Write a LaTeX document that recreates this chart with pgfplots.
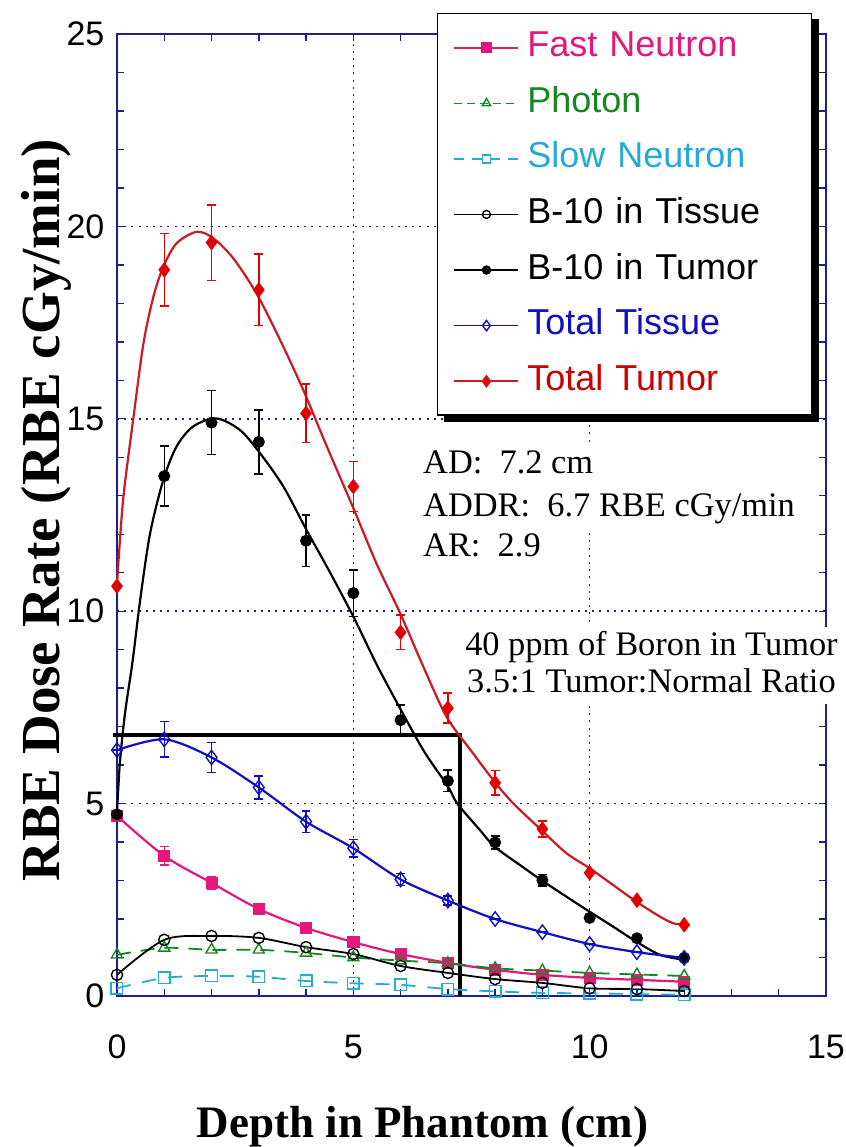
\documentclass[border=0pt]{standalone}
\usepackage{pgfplots}
\usepackage{pgfplotstable}
\pgfplotsset{compat=1.18}
\usepackage{fontspec}
\setmainfont{Liberation Serif}
\setsansfont{Liberation Sans}

\definecolor{axc}{RGB}{30,30,140}
\definecolor{fastc}{RGB}{228,24,122}
\definecolor{photc}{RGB}{20,135,30}
\definecolor{slowc}{RGB}{35,170,215}
\definecolor{tisc}{RGB}{15,15,195}
\definecolor{tumc}{RGB}{228,0,0}
\definecolor{tumline}{RGB}{205,25,35}
\definecolor{tumtext}{RGB}{200,0,0}

% Total Tumor
\pgfplotstableread{
x y e
0 10.65 0
1 18.87 0.94
2 19.58 0.98
3 18.35 0.93
4 15.14 0.76
5 13.24 0.65
6 9.45 0.45
7 7.48 0.39
8 5.54 0.32
9 4.34 0.21
10 3.20 0
11 2.49 0
12 1.85 0
}\TTumor
\pgfplotstableread{
x y
0 10.70
0.13 12.90
0.35 15.05
0.56 16.96
0.77 18.17
0.98 18.95
1.26 19.56
1.69 19.86
2.04 19.69
2.46 19.17
2.95 18.26
3.45 17.05
3.94 15.75
4.44 14.28
5.00 12.68
5.49 11.24
5.99 9.95
6.48 8.56
6.97 7.26
7.50 6.36
8.00 5.55
8.38 5.01
8.98 4.31
9.51 3.71
10.00 3.32
10.50 2.88
10.99 2.45
11.49 2.06
11.77 1.89
12.00 1.85
}\TTumorFit
% B-10 in Tumor
\pgfplotstableread{
x y e
0 4.72 0
1 13.51 0.78
2 14.90 0.83
3 14.40 0.83
4 11.83 0.67
5 10.47 0.60
6 7.17 0.39
7 5.59 0.28
8 3.99 0.17
9 3.01 0.15
10 2.03 0
11 1.50 0
12 0.99 0
}\BTumor
\pgfplotstableread{
x y
0 4.75
0.06 6.05
0.17 7.35
0.33 8.70
0.49 10.29
0.70 12.02
0.98 13.41
1.26 14.28
1.61 14.80
2.10 15.01
2.60 14.71
3.03 14.10
3.52 13.24
4.01 12.11
4.51 11.00
5.00 9.86
5.50 8.60
6.00 7.45
6.50 6.35
7.00 5.45
7.20 5.00
7.68 4.31
7.99 3.88
8.53 3.40
8.98 3.01
9.51 2.58
10.00 2.19
10.50 1.80
10.99 1.41
11.49 1.07
12.00 0.94
}\BTumorFit
% Total Tissue
\pgfplotstableread{
x y e
0 6.39 0
1 6.67 0.46
2 6.20 0.39
3 5.42 0.30
4 4.53 0.28
5 3.84 0.23
6 3.03 0.16
7 2.48 0.12
8 2.00 0
9 1.66 0
10 1.35 0
11 1.14 0
12 0.99 0
}\TTissue
% Fast Neutron
\pgfplotstableread{
x y e
0 4.68 0
1 3.64 0.24
2 2.94 0.16
3 2.26 0
4 1.77 0
5 1.40 0
6 1.09 0
7 0.86 0
8 0.68 0
9 0.55 0
10 0.47 0
11 0.42 0
12 0.37 0
}\Fast
% Photon
\pgfplotstableread{
x y
0 1.07
1 1.25
2 1.20
3 1.20
4 1.12
5 1.00
6 0.92
7 0.85
8 0.72
9 0.66
10 0.60
11 0.56
12 0.52
}\Photon
% Slow Neutron
\pgfplotstableread{
x y
0 0.20
1 0.47
2 0.52
3 0.50
4 0.39
5 0.33
6 0.29
7 0.18
8 0.12
9 0.08
10 0.07
11 0.05
12 0.03
}\Slow
% B-10 in Tissue
\pgfplotstableread{
x y
0 0.55
1 1.46
2 1.56
3 1.51
4 1.27
5 1.09
6 0.78
7 0.60
8 0.44
9 0.34
10 0.20
11 0.18
12 0.13
}\BTissue

\begin{document}
\begin{tikzpicture}
\path[use as bounding box] (-58.5pt,-75.5pt) rectangle (364.5pt,498pt);
\begin{axis}[
  at={(0pt,0pt)}, anchor=south west,
  scale only axis, width=354.5pt, height=481pt,
  xmin=0, xmax=15, ymin=0, ymax=25,
  xtick={0,5,10,15}, ytick={0,5,10,15,20,25},
  minor x tick num=4, minor y tick num=4,
  tick align=inside,
  major tick length=3.5pt, minor tick length=3.5pt,
  axis line style={axc, line width=0.9pt},
  tick style={axc, line width=0.7pt},
  grid=major,
  major grid style={axc, line width=0.8pt, dash pattern=on 1pt off 2.6pt},
  clip=false,
  /pgf/number format/assume math mode=true,
  ticklabel style={font=\fontsize{17}{17}\selectfont\sffamily, text=black},
  xticklabel style={yshift=-16pt},
  yticklabel style={xshift=-2.8pt},
  xlabel={Depth in Phantom (cm)},
  xlabel style={at={(axis description cs:0.431,0)}, anchor=base, yshift=-70.5pt, font=\fontsize{22.5}{22.5}\selectfont\bfseries},
  ylabel={RBE Dose Rate (RBE cGy/min)},
  ylabel style={at={(axis description cs:-0.0804,0.505)}, anchor=base, font=\fontsize{27.5}{27.5}\selectfont\bfseries},
  legend cell align=left,
  legend image code/.code={\draw[mark repeat=2,mark phase=2,#1] plot coordinates {(0pt,0pt)(16pt,0pt)(32pt,0pt)};},
  legend style={name=leg, at={(axis description cs:0.451,1.022)}, anchor=north west,
    draw=black, line width=0.8pt, fill=white,
    font=\fontsize{18}{21}\selectfont\sffamily,
    inner xsep=8pt, inner ysep=8.5pt, row sep=10.8pt,
    nodes={inner xsep=4pt, inner ysep=0pt, text height=13pt, text depth=4pt, text width=130pt}},
  ebar/.style={error bars/.cd, y dir=both, y explicit,
    error bar style={line width=0.7pt},
    error mark options={rotate=90, mark size=2.2pt, line width=0.7pt}},
]
% legend entries
\addlegendimage{fastc, line width=0.9pt, mark=square*, mark size=2.2pt}
\addlegendentry{\textcolor{fastc}{Fast Neutron}}
\addlegendimage{photc, line width=0.7pt, dash pattern=on 4pt off 2.5pt, mark=triangle, mark size=2.4pt, mark options={solid}}
\addlegendentry{\textcolor{photc}{Photon}}
\addlegendimage{slowc, line width=0.9pt, dash pattern=on 5pt off 4pt, mark=square, mark size=2pt, mark options={solid}}
\addlegendentry{\textcolor{slowc}{Slow Neutron}}
\addlegendimage{black, line width=0.7pt, mark=o, mark size=2pt}
\addlegendentry{\textcolor{black}{B-10 in Tissue}}
\addlegendimage{black, line width=0.7pt, mark=*, mark size=2pt}
\addlegendentry{\textcolor{black}{B-10 in Tumor}}
\addlegendimage{tisc, line width=0.7pt, mark=diamond, mark size=2.6pt}
\addlegendentry{\textcolor{tisc}{Total Tissue}}
\addlegendimage{tumline, line width=0.9pt, mark=diamond*, mark size=2.6pt, mark options={fill=tumc}}
\addlegendentry{\textcolor{tumtext}{Total Tumor}}

% AD box line
\addplot[black, line width=2.3pt, forget plot] coordinates {(-0.08,6.78) (7.26,6.78) (7.26,0)};

% Fast neutron
\addplot[fastc, line width=1.1pt, smooth, forget plot] table[x=x,y=y]{\Fast};
\addplot[fastc, only marks, mark=square*, mark size=2.8pt, forget plot, ebar] table[x=x,y=y,y error=e]{\Fast};
% Photon
\addplot[photc, line width=0.9pt, smooth, dash pattern=on 7pt off 5pt, forget plot] table[x=x,y=y]{\Photon};
\addplot[photc, only marks, mark=triangle, mark size=3.2pt, mark options={line width=0.7pt}, forget plot] table[x=x,y=y]{\Photon};
% Slow neutron
\addplot[slowc, line width=0.9pt, smooth, dash pattern=on 7pt off 6pt, forget plot] table[x=x,y=y]{\Slow};
\addplot[slowc, only marks, mark=square, mark size=2.9pt, mark options={line width=0.7pt}, forget plot] table[x=x,y=y]{\Slow};
% B-10 in tissue
\addplot[black, line width=0.9pt, smooth, forget plot] table[x=x,y=y]{\BTissue};
\addplot[black, only marks, mark=o, mark size=2.8pt, mark options={line width=0.7pt}, forget plot] table[x=x,y=y]{\BTissue};
% B-10 in tumor
\addplot[black, line width=1.1pt, smooth, forget plot] table[x=x,y=y]{\BTumorFit};
\addplot[black, only marks, mark=*, mark size=2.8pt, forget plot, ebar] table[x=x,y=y,y error=e]{\BTumor};
% Total tissue
\addplot[tisc, line width=1.1pt, smooth, forget plot] table[x=x,y=y]{\TTissue};
\addplot[tisc, only marks, mark=diamond, mark size=3.6pt, mark options={line width=0.7pt}, forget plot, ebar] table[x=x,y=y,y error=e]{\TTissue};
% Total tumor
\addplot[tumline, line width=1.1pt, smooth, forget plot] table[x=x,y=y]{\TTumorFit};
\addplot[tumc, only marks, mark=diamond*, mark size=3.6pt, forget plot, ebar] table[x=x,y=y,y error=e]{\TTumor};

% annotations
\node[anchor=base west, fill=white, inner xsep=2pt, inner ysep=0pt, text height=14pt, text depth=7pt, xshift=-2pt, font=\fontsize{17.2}{20}\selectfont] at (axis cs:6.47,13.57) {AD:\ \ 7.2 cm};
\node[anchor=base west, fill=white, inner xsep=2pt, inner ysep=0pt, text height=14pt, text depth=7pt, xshift=-2pt, font=\fontsize{17.2}{20}\selectfont] at (axis cs:6.47,12.47) {ADDR:\ \ 6.7 RBE cGy/min};
\node[anchor=base west, fill=white, inner xsep=2pt, inner ysep=0pt, text height=14pt, text depth=7pt, xshift=-2pt, font=\fontsize{17.2}{20}\selectfont] at (axis cs:6.47,11.41) {AR:\ \ 2.9};
\node[anchor=base west, fill=white, inner xsep=2pt, inner ysep=0pt, text height=14pt, text depth=6pt, xshift=-2pt, font=\fontsize{17.2}{20}\selectfont] at (axis cs:7.36,8.86) {40 ppm of Boron in Tumor};
\node[anchor=base west, fill=white, inner xsep=2pt, inner ysep=0pt, text height=14pt, text depth=6pt, xshift=-2pt, font=\fontsize{17.2}{20}\selectfont] at (axis cs:7.40,7.90) {3.5:1 Tumor:Normal Ratio};
\end{axis}
% legend shadow (right and bottom strips)
\fill[black] ([yshift=-3pt]leg.north east) rectangle ([xshift=3.5pt,yshift=-3pt]leg.south east);
\fill[black] ([xshift=3.5pt]leg.south west) rectangle ([xshift=3.5pt,yshift=-3pt]leg.south east);
\end{tikzpicture}
\end{document}
